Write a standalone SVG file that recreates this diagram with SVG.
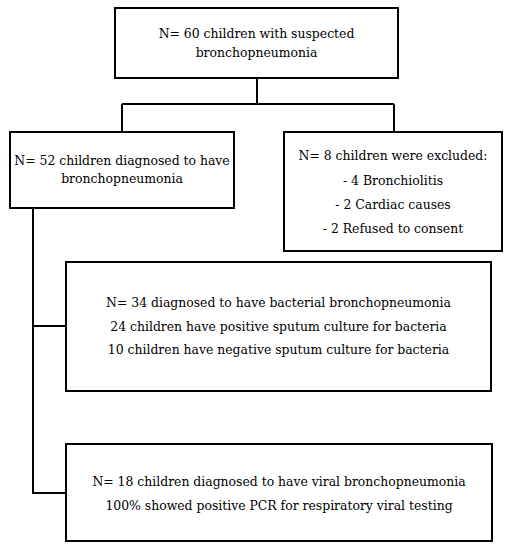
<svg xmlns="http://www.w3.org/2000/svg" width="507" height="550" viewBox="0 0 507 550">
<style>
.box{fill:#fff;stroke:#000;stroke-width:2}
.ln{fill:none;stroke:#000;stroke-width:2}
.t{fill:#000;text-anchor:middle;font-family:'DejaVu Serif Condensed','DejaVu Serif',serif;font-stretch:condensed;font-size:13.8px}
</style>
<rect width="507" height="550" fill="#fff"/>
<g id="connectors">
<path class="ln" d="M257 78V104M122 104H394M122 104V132M394 104V132"/>
<path class="ln" d="M33 208V493H66M33 326H66"/>
</g>
<g id="n60">
<rect class="box" x="115" y="8" width="283" height="70"/>
<text class="t" x="256.5" y="38">N= 60 children with suspected</text>
<text class="t" x="256.5" y="57">bronchopneumonia</text>
</g>
<g id="n52">
<rect class="box" x="10" y="132" width="224" height="76"/>
<text class="t" x="122" y="165">N= 52 children diagnosed to have</text>
<text class="t" x="122" y="183">bronchopneumonia</text>
</g>
<g id="n8">
<rect class="box" x="284" y="132" width="218" height="119"/>
<text class="t" x="393" y="160">N= 8 children were excluded:</text>
<text class="t" x="393" y="185">- 4 Bronchiolitis</text>
<text class="t" x="393" y="209">- 2 Cardiac causes</text>
<text class="t" x="393" y="233">- 2 Refused to consent</text>
</g>
<g id="n34">
<rect class="box" x="66" y="262" width="425" height="129"/>
<text class="t" x="278.5" y="307">N= 34 diagnosed to have bacterial bronchopneumonia</text>
<text class="t" x="278.5" y="331">24 children have positive sputum culture for bacteria</text>
<text class="t" x="278.5" y="354">10 children have negative sputum culture for bacteria</text>
</g>
<g id="n18">
<rect class="box" x="66" y="444" width="426" height="97"/>
<text class="t" x="279" y="486">N= 18 children diagnosed to have viral bronchopneumonia</text>
<text class="t" x="279" y="510">100% showed positive PCR for respiratory viral testing</text>
</g>
</svg>
